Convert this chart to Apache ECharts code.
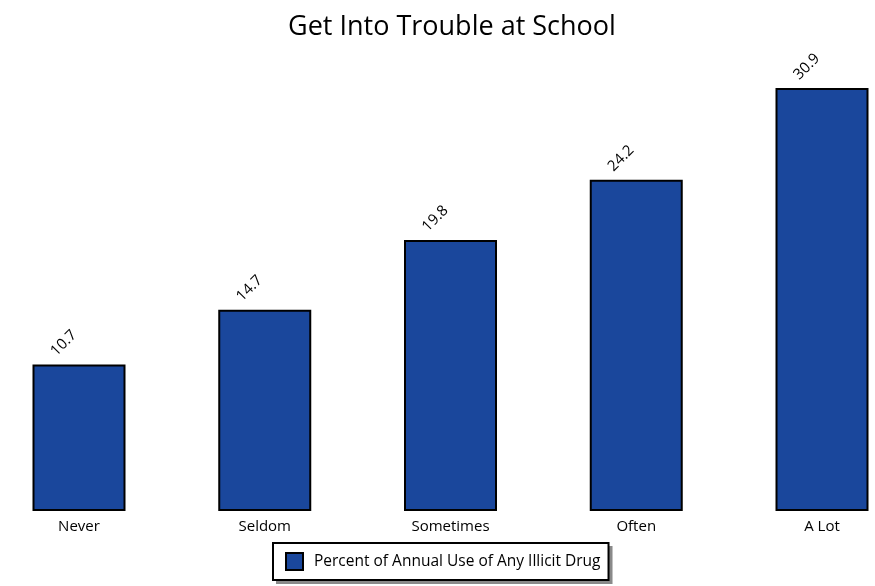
<!DOCTYPE html>
<html><head><meta charset="utf-8">
<script src="https://cdn.jsdelivr.net/npm/echarts@6/dist/echarts.min.js"></script>
<style>html,body{margin:0;padding:0;background:#fff}#c{width:875px;height:586px}</style>
</head><body><div id="c"></div>
<script>
const categories = ['Never', 'Seldom', 'Sometimes', 'Often', 'A Lot'];
const values = [10.7, 14.7, 19.8, 24.2, 30.9];
const seriesName = 'Percent of Annual Use of Any Illicit Drug';
const FONT = 'Open Sans';
const chart = echarts.init(document.getElementById('c'), null, {renderer: 'canvas'});
chart.setOption({
  animation: false,
  backgroundColor: '#ffffff',
  title: {text: 'Get Into Trouble at School', left: 283, top: 9,
    textStyle: {fontFamily: FONT, fontSize: 27, fontWeight: 'normal', color: '#000'}},
  grid: {left: 79, right: 53, top: 32, height: 479},
  xAxis: {type: 'category', data: categories, boundaryGap: false,
    axisLine: {show: false}, axisTick: {show: false},
    axisLabel: {fontFamily: FONT, fontSize: 15, color: '#000', margin: 8}},
  yAxis: {type: 'value', min: 0, max: 35, show: false, splitLine: {show: false}},
  legend: {data: [seriesName], bottom: 6, left: 273, z: 10,
    backgroundColor: '#fff', borderColor: '#000', borderWidth: 2, padding: [9, 8, 9, 12],
    icon: 'rect', itemWidth: 17, itemHeight: 17, itemGap: 6,
    textStyle: {fontFamily: FONT, fontSize: 15.5, color: '#000', padding: [0, 0, 0, 6]}},
  series: [{
    type: 'bar', name: seriesName, data: values, barWidth: 93,
    itemStyle: {color: '#1a479c', borderColor: '#000', borderWidth: 2},
    label: {show: true, position: 'top', rotate: 45, distance: 26, offset: [-14, 0],
      fontFamily: FONT, fontSize: 15, color: '#000'}
  }]
});
try {
  const lm = chart.getModel().getComponent('legend');
  const view = chart.getViewOfComponentModel(lm);
  const g = view.group;
  const r = g.getBoundingRect();
  chart.setOption({graphic: [{type: 'rect', z: 1, silent: true,
    shape: {x: g.x + r.x + 4, y: g.y + r.y + 4, width: r.width - 1, height: r.height - 1},
    style: {fill: '#8a8a8a'}}]});
} catch (e) {}
</script></body></html>
